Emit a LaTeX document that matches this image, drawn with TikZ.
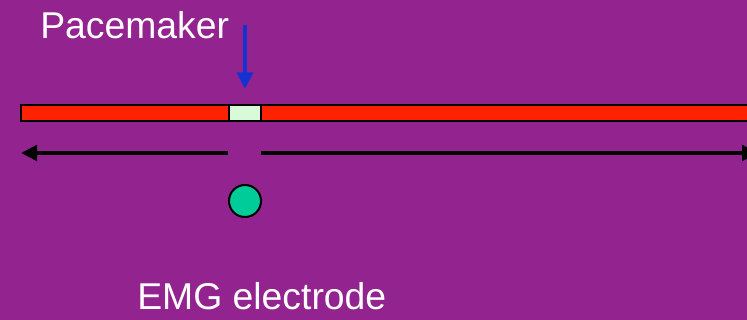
\documentclass[tikz,border=0pt]{standalone}
\usepackage{fontspec}
\setmainfont{Liberation Sans}
\usetikzlibrary{arrows.meta}
\definecolor{bgpurple}{RGB}{146,35,143}
\definecolor{barred}{RGB}{255,34,0}
\definecolor{palegreen}{RGB}{217,250,217}
\definecolor{emgteal}{RGB}{0,204,153}
\definecolor{arrowblue}{RGB}{20,50,210}
\tikzset{
  label text/.style={text=white, anchor=base west, inner sep=0pt, font=\fontsize{28}{33}\selectfont},
  fibre/.style={draw=black, line width=1.5pt, inner sep=0pt, minimum height=12pt},
  conduction/.style={draw=black, line width=3.2pt, -{Triangle[length=12pt,width=11.5pt]}},
  pointer/.style={draw=arrowblue, line width=3pt, -{Triangle[length=12.5pt,width=12pt]}},
}
\begin{document}
\begin{tikzpicture}[x=0.75pt,y=-0.75pt]
\useasboundingbox (0,0) rectangle (747,320);
\clip (0,0) rectangle (747,320);
\fill[bgpurple] (-5,-5) rectangle (752,325);
% muscle fibre
\node (bar) [fibre, fill=barred, anchor=west, minimum width=555pt] at (20,113) {};
\node (pm) [fibre, fill=palegreen, minimum width=24pt] at (245,113) {};
% pacemaker pointer
\coordinate (ptop) at (245,25);
\coordinate (ptip) at (245,89);
\draw[pointer] (ptop) -- (ptip);
% conduction arrows
\coordinate (lstart) at (228,153);
\coordinate (ltip) at (21,153);
\coordinate (rstart) at (261,153);
\coordinate (rtip) at (758,153);
\draw[conduction] (lstart) -- (ltip);
\draw[conduction] (rstart) -- (rtip);
% electrode
\node (emg) [circle, draw=black, line width=1.5pt, fill=emgteal, minimum size=24pt, inner sep=0pt] at (245,201) {};
% labels
\node (pmlabel) [label text] at (40,39) {Pacemaker};
\node (emglabel) [label text] at (137,310) {EMG electrode};
\end{tikzpicture}
\end{document}
